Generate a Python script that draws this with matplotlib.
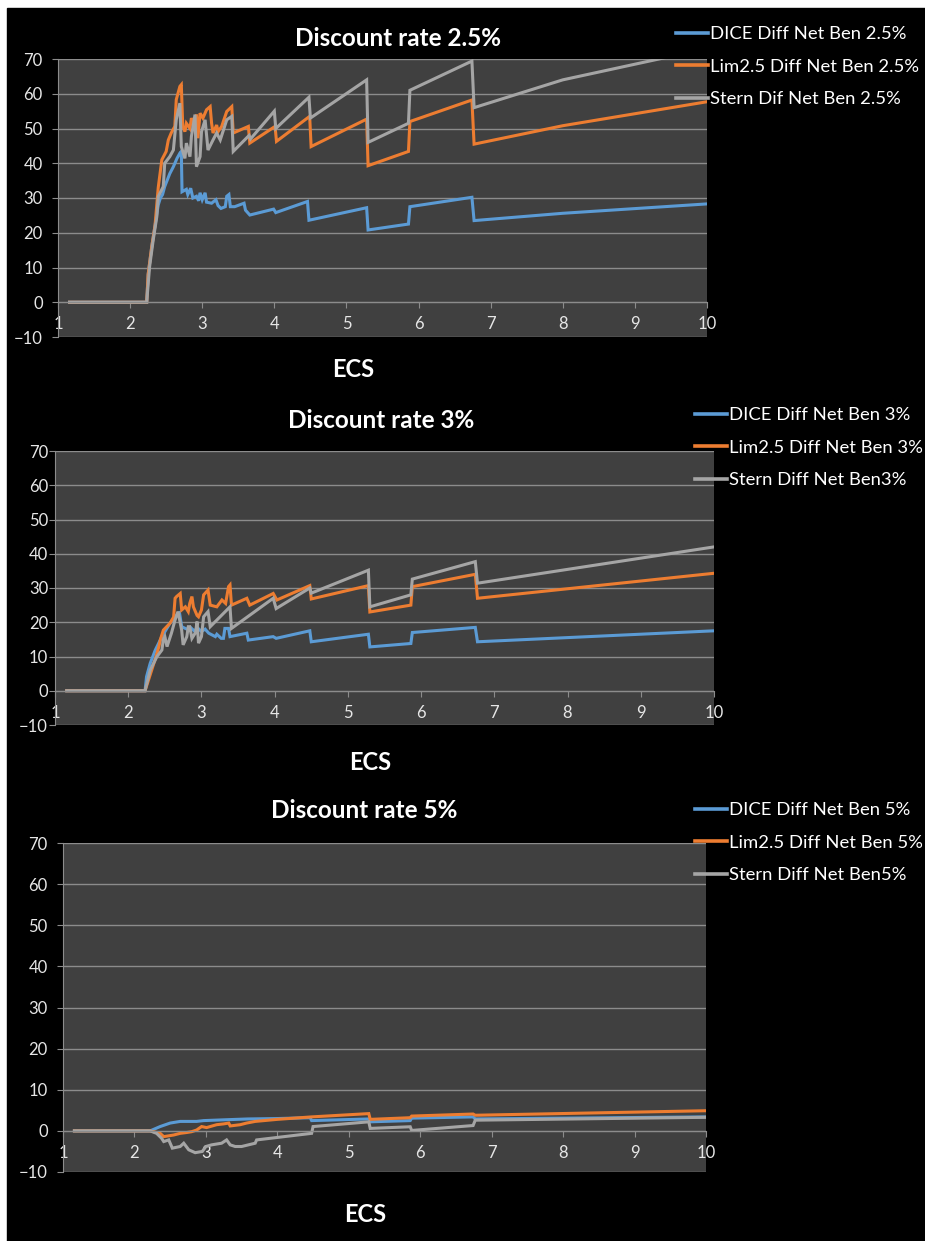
import matplotlib
matplotlib.use('Agg')
import matplotlib.pyplot as plt
from matplotlib.patches import Rectangle

plt.rcParams['font.family'] = ['Lato', 'DejaVu Sans']

# ---- data: ECS vs difference in net benefit ----
# discount rate 2.5%
dice25_x = [1.16, 2.23, 2.25, 2.30, 2.345, 2.39, 2.42, 2.45, 2.48, 2.55, 2.60, 2.65, 2.69, 2.71, 2.72, 2.78, 2.80, 2.84,
            2.87, 2.92, 2.95, 2.97, 3.00, 3.04, 3.06, 3.13, 3.19, 3.22, 3.26, 3.32, 3.34, 3.37, 3.39, 3.45, 3.58, 3.60,
            3.66, 3.99, 4.02, 4.46, 4.48, 5.28, 5.30, 5.86, 5.88, 6.74, 6.77, 8.0, 10.0]
dice25_y = [0, 0, 8, 16, 22, 28, 30, 31, 33.3, 37, 39, 41.4, 42.9, 43.4, 31.8, 32.5, 31.0, 32.8,
            30.0, 30.5, 29.2, 31.5, 29.5, 31.5, 28.8, 28.5, 29.5, 27.8, 27.0, 27.5, 30.5, 31.0, 27.5, 27.5, 28.5, 26.5,
            25.1, 26.8, 25.8, 29.0, 23.6, 27.2, 20.8, 22.5, 27.5, 30.2, 23.5, 25.6, 28.3]
lim25_x = [1.16, 2.23, 2.25, 2.30, 2.345, 2.39, 2.44, 2.50, 2.53, 2.57, 2.62, 2.64, 2.69, 2.71, 2.73, 2.76, 2.78, 2.83,
           2.85, 2.90, 2.92, 2.94, 2.97, 3.01, 3.06, 3.11, 3.13, 3.15, 3.20, 3.22, 3.27, 3.34, 3.41, 3.43, 3.64, 3.66,
           4.01, 4.03, 4.49, 4.51, 5.28, 5.30, 5.86, 5.88, 6.74, 6.77, 8.0, 10.0]
lim25_y = [0, 0, 8, 16, 22, 33, 41, 43.4, 46.7, 48.7, 50.6, 58.3, 62.1, 62.6, 50.6, 49.1, 51.5, 50,
           53, 50, 54, 47.2, 54.4, 53, 55.4, 56.3, 51.5, 48.7, 51, 49.1, 50.6, 54.9, 56.3, 48.7, 50.6, 45.8,
           50.6, 46.3, 53.5, 44.8, 52.7, 39.3, 43.4, 52, 58.2, 45.5, 50.8, 57.7]
stern25_x = [1.16, 2.23, 2.27, 2.32, 2.37, 2.39, 2.46, 2.48, 2.55, 2.60, 2.64, 2.69, 2.71, 2.76, 2.78, 2.83, 2.85, 2.90,
             2.92, 2.97, 2.99, 3.04, 3.08, 3.15, 3.20, 3.25, 3.34, 3.41, 3.43, 3.65, 3.67, 4.00, 4.02, 4.48, 4.50,
             5.28, 5.30, 5.86, 5.88, 6.74, 6.77, 8.0, 10.0]
stern25_y = [0, 0, 10.2, 17.9, 24.6, 30.4, 33.3, 40, 41.9, 43.8, 52.5, 57.3, 44.8, 41.4, 45.8, 41.9, 47.7, 54,
             39, 41.9, 49.1, 52.5, 43.8, 46.7, 48.7, 46.7, 52.5, 53.5, 43.4, 48, 47, 55, 50, 59, 53,
             64, 46, 51.5, 61, 69.4, 56, 64, 73]

# discount rate 3%
dice3_x = [1.16, 2.23, 2.25, 2.30, 2.37, 2.46, 2.57, 2.68, 2.70, 2.73, 2.80, 2.85, 2.90, 2.95, 3.00, 3.05, 3.10, 3.19,
           3.21, 3.27, 3.30, 3.32, 3.37, 3.39, 3.62, 3.64, 3.98, 4.02, 4.48, 4.50, 5.28, 5.30, 5.86, 5.88, 6.74, 6.77,
           10.0]
dice3_y = [0, 0, 4.1, 8, 11.9, 15.8, 19.7, 22.6, 22.8, 18.7, 18.0, 18.5, 17.5, 18.3, 17.3, 18.0, 16.8, 15.8,
           16.5, 15.3, 15.3, 18.2, 18.2, 15.8, 16.8, 14.8, 15.8, 15.3, 17.5, 14.3, 16.5, 12.8, 13.8, 17.0, 18.5, 14.3,
           17.5]
lim3_x = [1.16, 2.23, 2.26, 2.32, 2.38, 2.42, 2.44, 2.48, 2.57, 2.62, 2.64, 2.66, 2.71, 2.73, 2.78, 2.82, 2.84, 2.87,
          2.89, 2.94, 2.96, 3.00, 3.03, 3.09, 3.12, 3.21, 3.28, 3.33, 3.37, 3.39, 3.41, 3.62, 3.66, 3.98, 4.03, 4.48,
          4.50, 5.28, 5.30, 5.86, 5.88, 6.74, 6.77, 10.0]
lim3_y = [0, 0, 2, 6, 10, 13, 15, 17.7, 19.7, 21.5, 27.0, 27.5, 28.4, 23.6, 24.5, 23.1, 25.5, 27.5,
          24.5, 22.0, 21.6, 23.6, 28.0, 29.4, 25.0, 24.5, 26.5, 25.5, 30.4, 30.9, 25.0, 27.0, 25.0, 28.4, 26.5, 30.7,
          26.8, 30.7, 23.0, 25.0, 30.4, 34.0, 27.0, 34.3]
stern3_x = [1.16, 2.23, 2.30, 2.39, 2.46, 2.48, 2.50, 2.53, 2.59, 2.64, 2.68, 2.73, 2.75, 2.80, 2.82, 2.84, 2.87, 2.92,
            2.94, 2.96, 3.00, 3.03, 3.09, 3.12, 3.39, 3.41, 3.98, 4.02, 4.48, 4.50, 5.28, 5.30, 5.86, 5.88, 6.74, 6.77,
            10.0]
stern3_y = [0, 0, 6, 9.9, 11.9, 15.0, 15.8, 12.9, 16.8, 20.7, 23.1, 17.7, 13.4, 15.8, 18.7, 18.7, 15.3, 17.0,
            20.2, 13.9, 15.8, 21.6, 23.1, 18.7, 24.5, 18.2, 27.0, 24.0, 30.0, 28.5, 35.2, 24.5, 28.0, 32.6, 37.7, 31.4,
            42.0]

# discount rate 5%
dice5_x = [1.16, 2.22, 2.36, 2.50, 2.64, 2.87, 2.97, 3.27, 3.59, 4.00, 4.46, 4.48, 5.28, 5.30, 5.86, 5.88, 6.74, 6.77,
           10.0]
dice5_y = [0, 0, 1.05, 1.9, 2.3, 2.3, 2.5, 2.7, 2.9, 3.0, 3.2, 2.5, 2.9, 2.2, 2.5, 3.1, 3.4, 2.9,
           3.4]
lim5_x = [1.16, 2.22, 2.36, 2.41, 2.55, 2.64, 2.73, 2.80, 2.87, 2.94, 3.01, 3.15, 3.25, 3.32, 3.34, 3.48, 3.57, 3.69,
          4.00, 4.48, 5.28, 5.30, 5.86, 5.88, 6.74, 6.77, 10.0]
lim5_y = [0, 0, -0.6, -1.4, -1.0, -0.6, -0.4, -0.2, 0.2, 1.05, 0.8, 1.5, 1.7, 1.9, 1.2, 1.5, 1.9, 2.3,
          2.8, 3.4, 4.2, 2.8, 3.2, 3.6, 4.1, 3.8, 4.9]
stern5_x = [1.16, 2.22, 2.31, 2.38, 2.41, 2.48, 2.53, 2.64, 2.69, 2.76, 2.85, 2.95, 3.00, 3.08, 3.22, 3.29, 3.34, 3.41,
            3.50, 3.69, 3.71, 4.48, 4.50, 5.28, 5.30, 5.86, 5.88, 6.74, 6.77, 10.0]
stern5_y = [0, 0, -0.6, -1.8, -2.6, -2.2, -4.2, -3.8, -3.0, -4.6, -5.3, -5.0, -3.8, -3.4, -3.0, -2.2, -3.4, -3.8,
            -3.8, -3.0, -2.2, -0.6, 1.05, 2.2, 0.6, 1.0, 0.1, 1.3, 2.6, 3.3]

titles = ['Discount rate 2.5%', 'Discount rate 3%', 'Discount rate 5%']
labels = [['DICE Diff Net Ben 2.5%', 'Lim2.5 Diff Net Ben 2.5%', 'Stern Dif Net Ben 2.5%'],
          ['DICE Diff Net Ben 3%', 'Lim2.5 Diff Net Ben 3%', 'Stern Diff Net Ben3%'],
          ['DICE Diff Net Ben 5%', 'Lim2.5 Diff Net Ben 5%', 'Stern Diff Net Ben5%']]
series = [[(dice25_x, dice25_y), (lim25_x, lim25_y), (stern25_x, stern25_y)],
          [(dice3_x, dice3_y), (lim3_x, lim3_y), (stern3_x, stern3_y)],
          [(dice5_x, dice5_y), (lim5_x, lim5_y), (stern5_x, stern5_y)]]
colors = ['#5B9BD5', '#ED7D31', '#A5A5A5']

W, H = 925, 1241
fig = plt.figure(figsize=(W / 100, H / 100), dpi=100, facecolor='white')
# black background, thin white margin top / left like the screenshot
fig.patches.append(Rectangle((7 / W, 0), 1, 1 - 8 / H, transform=fig.transFigure, color='black', zorder=-10))

# pixel boxes: left, right, top, bottom of plot area
boxes = [(58, 707, 59, 337), (55, 714, 451, 725), (63, 706, 843, 1172)]
ypads = [7, 1, 7]
title_pos = [(398, 38), (381, 421), (364, 810)]
ecs_pos = [(353, 369), (370, 762), (365, 1215)]
leg_pos = [(676, 26), (695, 407), (695, 802)]


def fx(px):
    return px / W


def fy(py):
    return 1 - py / H


for i in range(3):
    l, r, t, b = boxes[i]
    ax = fig.add_axes([fx(l), fy(b), fx(r) - fx(l), (b - t) / H])
    ax.set_facecolor('#404040')
    for j in range(3):
        xs, ys = series[i][j]
        ax.plot(xs, ys, color=colors[j], lw=2.2, label=labels[i][j], solid_joinstyle='miter')
    ax.set_xlim(1, 10)
    ax.set_ylim(-10, 70)
    ax.set_yticks(range(-10, 71, 10))
    ax.set_xticks(range(1, 11))
    ax.grid(axis='y', color='#8c8c8c', lw=1)
    ax.set_axisbelow(True)
    ax.spines['top'].set_visible(False)
    ax.spines['right'].set_visible(False)
    ax.spines['left'].set_color('#8c8c8c')
    ax.spines['bottom'].set_color('#8c8c8c')
    ax.spines['bottom'].set_position(('data', 0))
    ax.tick_params(axis='y', colors='#8c8c8c', labelcolor='#e6e6e6', labelsize=12, length=4, pad=ypads[i])
    ax.tick_params(axis='x', colors='#8c8c8c', labelcolor='#e6e6e6', labelsize=12, length=4, pad=6)

    fig.text(fx(title_pos[i][0]), fy(title_pos[i][1]), titles[i], color='white', fontsize=17.5,
             fontweight='bold', ha='center', va='center')
    fig.text(fx(ecs_pos[i][0]), fy(ecs_pos[i][1]), 'ECS', color='white', fontsize=17,
             fontweight='bold', ha='center', va='center')
    leg = ax.legend(loc='upper left', bbox_to_anchor=(fx(leg_pos[i][0]), fy(leg_pos[i][1])),
                    bbox_transform=fig.transFigure, frameon=False, fontsize=13.3, labelcolor='white',
                    handlelength=1.75, handletextpad=0.1, labelspacing=0.9, borderpad=0, borderaxespad=0)
    for h in leg.get_lines():
        h.set_linewidth(2.6)

fig.savefig('out.png', dpi=100, facecolor=fig.get_facecolor())
